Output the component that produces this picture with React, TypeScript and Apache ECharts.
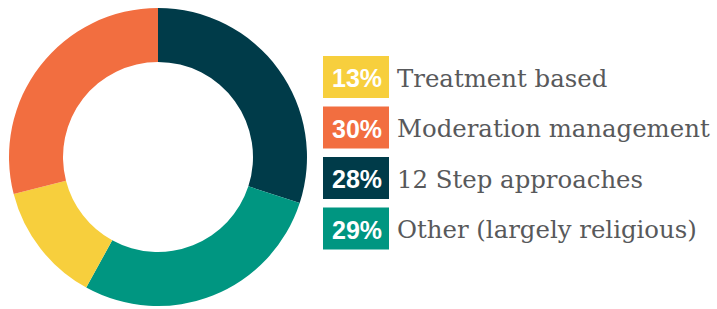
import React, { useEffect, useRef } from "react";
import * as echarts from "echarts";

// Ring slices, clockwise from 12 o'clock (shares as drawn in the picture)
const sliceNames = ["12 Step approaches", "Other (largely religious)", "Treatment based", "Moderation management"];
const sliceShares = [30, 28, 13, 29];
const sliceColors = ["#003B49", "#009681", "#F7CF3D", "#F26E40"];

// Legend rows, top to bottom
const legendPercents = ["13%", "30%", "28%", "29%"];
const legendLabels = ["Treatment based", "Moderation management", "12 Step approaches", "Other (largely religious)"];
const legendColors = ["#F7CF3D", "#F26E40", "#003B49", "#009681"];

export default function App() {
  const ref = useRef<HTMLDivElement>(null);

  useEffect(() => {
    if (!ref.current) return;
    const chart = echarts.init(ref.current, undefined, { renderer: "svg" });

    const rowTop = 56;
    const rowStep = 50.5;
    const boxH = 42;
    const graphics: any[] = [];
    legendLabels.forEach((label, i) => {
      const y = rowTop + i * rowStep;
      graphics.push({
        type: "rect",
        shape: { x: 323, y, width: 66, height: boxH },
        style: { fill: legendColors[i] },
      });
      graphics.push({
        type: "text",
        x: 357,
        y: y + boxH / 2 + 1,
        style: {
          text: legendPercents[i],
          fill: "#ffffff",
          font: "bold 25px 'Liberation Sans', Arial, sans-serif",
          align: "center",
          verticalAlign: "middle",
        },
      });
      graphics.push({
        type: "text",
        x: 397,
        y: y + boxH / 2 + 1,
        style: {
          text: label,
          fill: "#58595B",
          font: "24.4px 'DejaVu Serif', serif",
          align: "left",
          verticalAlign: "middle",
        },
      });
    });

    chart.setOption({
      animation: false,
      backgroundColor: "#ffffff",
      series: [
        {
          type: "pie",
          center: [158, 157],
          radius: [95, 149],
          startAngle: 90,
          clockwise: true,
          silent: true,
          label: { show: false },
          labelLine: { show: false },
          itemStyle: { borderWidth: 0 },
          data: sliceNames.map((name, i) => ({
            name,
            value: sliceShares[i],
            itemStyle: { color: sliceColors[i] },
          })),
        },
      ],
      graphic: graphics,
    });

    return () => chart.dispose();
  }, []);

  return (
    <div
      ref={ref}
      style={{ position: "fixed", left: 0, top: 0, width: 717, height: 309, background: "#fff" }}
    />
  );
}
